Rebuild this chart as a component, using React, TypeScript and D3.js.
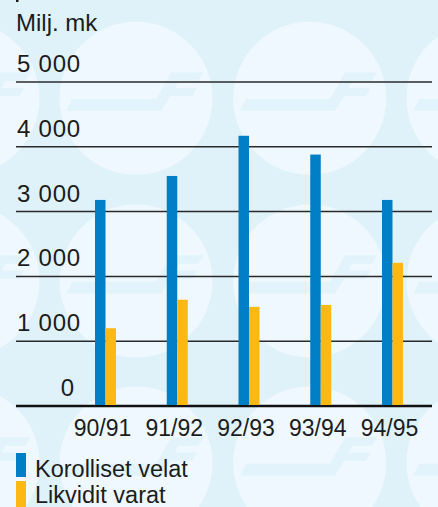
import React from "react";
import * as d3 from "d3";

const categories = ["90/91", "91/92", "92/93", "93/94", "94/95"];
const korollisetVelat = [3180, 3550, 4170, 3880, 3180];
const likviditVarat = [1200, 1640, 1530, 1560, 2210];
const yTicks = [0, 1000, 2000, 3000, 4000, 5000];
const seriesNames = ["Korolliset velat", "Likvidit varat"];
const unitLabel = "Milj. mk";

const W = 438;
const H = 507;
const BLUE = "#007ec6";
const ORANGE = "#fdb813";
const BG = "#dff2fa";
const CIRCLE = "#eef8fe";
const TEXT = "#1c1c1c";
const FONT = "'Liberation Sans', Arial, Helvetica, sans-serif";

const fmt = (v: number) => (v === 0 ? "0" : d3.format(",")(v).replace(/,/g, " "));

// logo shape offsets relative to circle centre
const logo: [number, number][] = [
  [-69.7, 12.4],
  [-63.7, 0.7],
  [20.3, 0.7],
  [35.3, -25.8],
  [67.3, -25.8],
  [62.3, -17.3],
  [42.3, -17.3],
  [38.8, -10.3],
  [60.8, -10.3],
  [56.3, -2.3],
  [34.3, -2.3],
  [25.3, 12.4],
];

export default function App() {
  const y = d3.scaleLinear().domain([0, 5000]).range([406, 82]);
  const x = d3.scalePoint<string>().domain(categories).range([105.5, 392.5]);
  const barW = 10.5;
  const xLeft = 16;
  const xRight = 432;

  const circleCols = [-37, 136, 309.7, 483];
  const circleRows = [98.3, 281, 463];
  const line = d3.line();

  return (
    <div style={{ position: "fixed", left: 0, top: 0, width: W, height: H }}>
      <svg width={W} height={H} style={{ display: "block" }} fontFamily={FONT}>
        <rect width={W} height={H} fill={BG} />
        {circleRows.map((cy) =>
          circleCols.map((cx) => (
            <g key={`${cx}-${cy}`}>
              <circle cx={cx} cy={cy} r={76.5} fill={CIRCLE} />
              <path
                d={line(logo.map(([dx, dy]) => [cx + dx, cy + dy]))! + "Z"}
                fill={BG}
                opacity={0.85}
              />
            </g>
          ))
        )}
        <rect x={16} y={-4} width={2.5} height={6} fill={TEXT} />
        <text x={16} y={31} fontSize={24} fill={TEXT}>
          {unitLabel}
        </text>
        {yTicks.map((t) => (
          <g key={t}>
            <line
              x1={xLeft}
              x2={xRight}
              y1={y(t)}
              y2={y(t)}
              stroke={t === 0 ? "#111" : "#2a2a2a"}
              strokeWidth={t === 0 ? 2.6 : 1.5}
            />
            <text
              x={t === 0 ? 75 : 81}
              y={y(t) - 10}
              fontSize={24}
              letterSpacing={0.8}
              textAnchor="end"
              fill={TEXT}
            >
              {fmt(t)}
            </text>
          </g>
        ))}
        {categories.map((c, i) => {
          const cx = x(c)!;
          return (
            <g key={c}>
              <rect
                x={cx - barW}
                y={y(korollisetVelat[i])}
                width={barW}
                height={y(0) - y(korollisetVelat[i]) - 1}
                fill={BLUE}
              />
              <rect
                x={cx}
                y={y(likviditVarat[i])}
                width={barW}
                height={y(0) - y(likviditVarat[i]) - 1}
                fill={ORANGE}
              />
              <text x={cx - 3} y={436} fontSize={23} textAnchor="middle" fill={TEXT}>
                {c}
              </text>
            </g>
          );
        })}
        <rect x={16} y={453} width={10} height={24} fill={BLUE} />
        <text x={35} y={477} fontSize={23.5} fill={TEXT}>
          {seriesNames[0]}
        </text>
        <rect x={16} y={481} width={10} height={30} fill={ORANGE} />
        <text x={35} y={503} fontSize={23.5} fill={TEXT}>
          {seriesNames[1]}
        </text>
      </svg>
    </div>
  );
}
